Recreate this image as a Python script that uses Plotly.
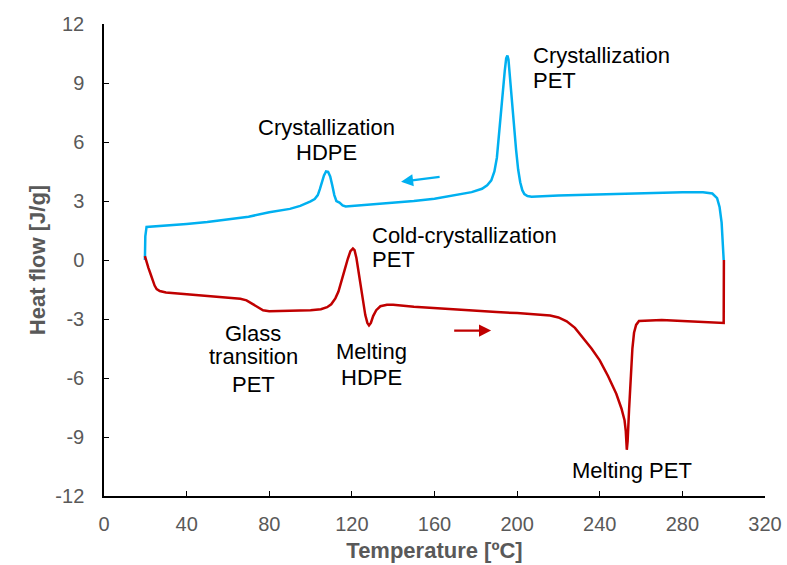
import plotly.graph_objects as go

# Cooling run (blue), ordered as measured: 300 -> 20 C
cool_T = [300.0, 299.6, 299.0, 298.0, 296.8, 294.5, 290, 280, 260, 240, 220, 207, 205, 203.5,
          202.5, 201.5, 200.5, 199.5, 198.5, 197.5, 196.5, 195.8, 195.3, 194.7, 194.0, 193.2,
          192.3, 191.3, 190.2, 189, 187.5, 185.5, 183, 178, 170, 160, 150, 140, 130, 120, 117,
          115.5, 114, 112.5, 111.5, 110.5, 109.5, 108.5, 107.5, 106.5, 105.5, 104.5, 103.5,
          102, 100, 95, 90, 80, 70, 60, 50, 40, 30, 22, 20.6, 20.0, 19.8]
cool_HF = [0.0, 1.0, 1.9, 2.7, 3.15, 3.38, 3.45, 3.45, 3.4, 3.35, 3.28, 3.22, 3.25, 3.35,
           3.55, 3.95, 4.6, 5.6, 6.9, 8.3, 9.6, 10.2, 10.4, 10.25, 9.6, 8.6,
           7.4, 6.2, 5.2, 4.5, 4.05, 3.8, 3.62, 3.45, 3.3, 3.12, 3.0, 2.92, 2.84, 2.76, 2.72,
           2.78, 2.92, 3.0, 3.3, 3.8, 4.25, 4.48, 4.5, 4.3, 3.9, 3.6, 3.3,
           3.1, 2.98, 2.75, 2.6, 2.43, 2.2, 2.05, 1.93, 1.83, 1.75, 1.7, 1.68, 1.2, 0.0]

# Heating run (red), ordered as measured: 20 -> 300 C
heat_T = [19.8, 20.5, 21.5, 22.5, 23.5, 24.5, 25.5, 27, 30, 40, 50, 57, 62, 66, 69, 71, 74,
          77, 80, 90, 100, 105, 108, 110, 112, 113.5, 115, 116.5, 118, 119.3, 120.5, 121.3,
          122.2, 123.2, 124.3, 125.4, 126.5, 127.5, 128.3, 129.2, 130.3, 131.8, 133.8, 137,
          140, 150, 160, 170, 180, 190, 200, 210, 216, 220, 224, 228, 232, 236, 240, 244, 248,
          250.5, 252, 252.6, 253.1, 253.5, 254.2, 255.0, 255.8, 256.6, 257.6, 259, 270, 280,
          290, 299.5, 300.0, 300.1]
heat_HF = [0.2, -0.1, -0.4, -0.7, -1.05, -1.3, -1.48, -1.58, -1.65, -1.73, -1.83, -1.86, -1.9,
           -1.97, -2.05, -2.18, -2.38, -2.56, -2.6, -2.58, -2.55, -2.5, -2.4, -2.25, -1.95,
           -1.6, -1.1, -0.5, 0.05, 0.45, 0.58, 0.5, 0.1, -0.55, -1.35, -2.15, -2.8, -3.2,
           -3.32, -3.2, -2.85, -2.55, -2.35, -2.28, -2.27, -2.38, -2.45, -2.52, -2.6, -2.65,
           -2.7, -2.76, -2.82, -2.92, -3.12, -3.45, -3.95, -4.5, -5.1, -5.9, -6.8, -7.55,
           -8.15, -8.7, -9.65, -9.2, -7.6, -5.8, -4.5, -3.7, -3.3, -3.1, -3.05, -3.1, -3.15,
           -3.2, -3.2, 0.0]

x_ticks = [0, 40, 80, 120, 160, 200, 240, 280, 320]
y_ticks = [-12, -9, -6, -3, 0, 3, 6, 9, 12]
y_tick_text = ["-12", "-9", "-6", "-3", "0", "3", "6", "9", "12"]

# one entry per text line: (text, x, y, anchor)
label_lines = [
    ("Crystallization", 206.6, 10.42, "left"),
    ("PET", 206.6, 9.15, "left"),
    ("Crystallization", 107.8, 6.74, "center"),
    ("HDPE", 107.8, 5.47, "center"),
    ("Cold-crystallization", 129.0, 1.24, "left"),
    ("PET", 129.0, 0.05, "left"),
    ("Glass", 72.3, -3.73, "center"),
    ("transition", 72.3, -4.93, "center"),
    ("PET", 72.3, -6.31, "center"),
    ("Melting", 129.5, -4.66, "center"),
    ("HDPE", 129.5, -5.95, "center"),
    ("Melting PET", 255.7, -10.68, "center"),
]
# direction arrows: (tail_x, tail_y, head_x, head_y, colour)
arrows = [
    (163.2, 4.24, 143.8, 3.98, "#00B0F0"),
    (168.8, -3.59, 187.4, -3.59, "#C00000"),
]

FONT = "Arial, Liberation Sans, sans-serif"
fig = go.Figure()
fig.add_trace(go.Scatter(x=cool_T, y=cool_HF, mode="lines",
                         line=dict(color="#00B0F0", width=2.5), showlegend=False))
fig.add_trace(go.Scatter(x=heat_T, y=heat_HF, mode="lines",
                         line=dict(color="#C00000", width=2.5), showlegend=False))

for text, x, y, al in label_lines:
    fig.add_annotation(x=x, y=y, xref="x", yref="y", text=text, showarrow=False,
                       xanchor=al, yanchor="middle", align=al,
                       font=dict(family=FONT, size=22, color="#000000"))
for tx, ty, hx, hy, c in arrows:
    fig.add_annotation(x=hx, y=hy, ax=tx, ay=ty, xref="x", yref="y", axref="x", ayref="y",
                       text="", showarrow=True, arrowhead=2, arrowsize=1.1,
                       arrowwidth=2.2, arrowcolor=c, standoff=0, startstandoff=0)

fig.update_layout(
    width=787, height=565,
    margin=dict(l=104, r=22, t=24, b=69, autoexpand=False),
    paper_bgcolor="white", plot_bgcolor="white",
    font=dict(family=FONT, size=20, color="#595959"),
)
fig.update_xaxes(range=[0, 320], tickvals=x_ticks, ticks="inside", ticklen=5,
                 tickcolor="black", showline=True, linecolor="black", linewidth=1.5,
                 showgrid=False, zeroline=False, ticklabelstandoff=9, automargin=False,
                 tickfont=dict(size=20, color="#595959"),
                 title=dict(text="<b>Temperature [ºC]</b>", standoff=9,
                            font=dict(size=22, color="#595959")))
fig.update_yaxes(range=[-12, 12], tickvals=y_ticks, ticktext=y_tick_text, ticks="inside",
                 ticklen=5, tickcolor="black", showline=True, linecolor="black",
                 linewidth=1.5, showgrid=False, zeroline=False, ticklabelstandoff=14,
                 automargin=False, tickfont=dict(size=20, color="#595959"),
                 title=dict(text="<b>Heat flow [J/g]</b>", standoff=4,
                            font=dict(size=22, color="#595959")))

fig.write_html("out.html")
